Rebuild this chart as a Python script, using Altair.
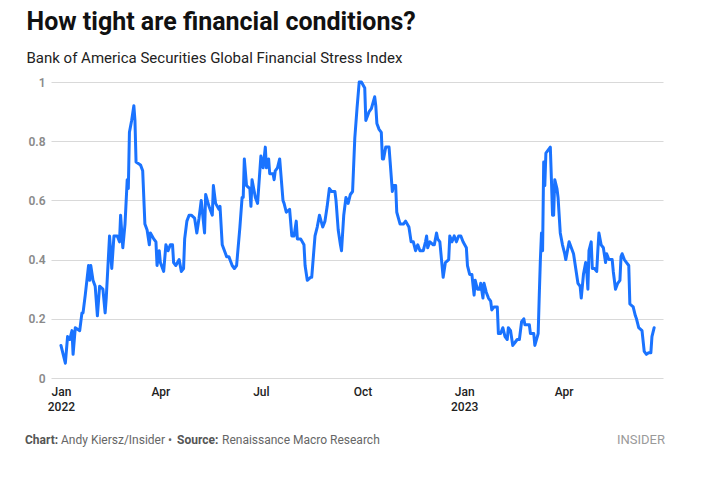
import altair as alt
import pandas as pd

# ---- data (days since 2022-01-01, index value) ----
days_h1_2022 = [0, 4, 6, 8, 10, 11, 13, 17, 19, 20, 22, 25, 26, 27, 29, 31, 33, 35, 38, 40,
                41, 44, 46, 48, 51, 53, 54, 56, 58, 60, 61, 62, 64, 66, 67, 68, 72, 74, 76, 78,
                80, 81, 84, 86, 87, 89, 90, 93, 95, 97, 99, 101, 102, 104, 107, 109, 111, 112, 114, 116]
vals_h1_2022 = [0.11, 0.05, 0.14, 0.13, 0.16, 0.08, 0.17, 0.16, 0.22, 0.22, 0.28, 0.38, 0.33, 0.38, 0.33,
                0.31, 0.21, 0.31, 0.30, 0.22, 0.27, 0.48, 0.37, 0.48, 0.48, 0.46, 0.55, 0.44, 0.52, 0.67,
                0.64, 0.83, 0.87, 0.92, 0.87, 0.73, 0.72, 0.70, 0.52, 0.50, 0.45, 0.49, 0.47, 0.46, 0.38,
                0.43, 0.39, 0.36, 0.45, 0.43, 0.45, 0.45, 0.39, 0.38, 0.40, 0.36, 0.37, 0.47, 0.53, 0.55]

days_mid_2022 = [118, 121, 123, 125, 127, 130, 131, 134, 137, 138, 140, 143, 144, 146, 150, 152, 155, 157,
                 159, 162, 164, 165, 166, 168, 171, 172, 173, 176, 178, 181, 183, 185, 186, 188, 189, 192,
                 193, 194, 196, 198, 201, 202, 204, 207, 209, 211, 213, 214, 217, 220, 221, 223, 226, 227,
                 230, 232, 234, 237, 239, 241, 243, 245, 248, 249, 251, 253, 254, 256, 258, 260, 262]
vals_mid_2022 = [0.55, 0.54, 0.49, 0.54, 0.60, 0.49, 0.62, 0.58, 0.55, 0.65, 0.59, 0.57, 0.58, 0.45, 0.41,
                 0.41, 0.38, 0.37, 0.38, 0.51, 0.61, 0.61, 0.74, 0.65, 0.64, 0.58, 0.67, 0.61, 0.59, 0.75,
                 0.71, 0.78, 0.71, 0.74, 0.69, 0.69, 0.67, 0.70, 0.71, 0.74, 0.60, 0.59, 0.56, 0.57, 0.48,
                 0.48, 0.53, 0.47, 0.47, 0.45, 0.38, 0.33, 0.34, 0.34, 0.48, 0.51, 0.55, 0.51, 0.53, 0.58,
                 0.64, 0.63, 0.63, 0.60, 0.50, 0.45, 0.43, 0.55, 0.61, 0.59, 0.62]

days_late_2022 = [264, 266, 268, 270, 272, 275, 276, 278, 279, 281, 284, 285, 286, 288, 290, 291, 292, 294,
                  297, 298, 300, 301, 303, 304, 307, 310, 312, 315, 317, 319, 321, 323, 325, 328, 330, 331,
                  332, 334, 337, 338, 340, 341, 343, 345, 346, 348, 351, 352, 354, 356, 358, 360, 362, 364,
                  367, 368, 370, 372, 374, 375, 377, 379, 380, 382, 383, 385, 387, 389]
vals_late_2022 = [0.63, 0.81, 0.91, 1.0, 1.0, 0.98, 0.87, 0.89, 0.90, 0.91, 0.95, 0.92, 0.86, 0.84, 0.83,
                  0.74, 0.74, 0.78, 0.78, 0.73, 0.63, 0.65, 0.65, 0.56, 0.52, 0.52, 0.53, 0.51, 0.46, 0.46,
                  0.43, 0.45, 0.43, 0.43, 0.46, 0.48, 0.44, 0.46, 0.45, 0.45, 0.49, 0.47, 0.46, 0.38, 0.34,
                  0.39, 0.40, 0.48, 0.46, 0.48, 0.46, 0.48, 0.48, 0.46, 0.44, 0.38, 0.35, 0.35, 0.28, 0.33,
                  0.30, 0.30, 0.32, 0.27, 0.32, 0.29, 0.27, 0.26]

days_2023 = [390, 392, 395, 396, 398, 400, 402, 404, 405, 407, 409, 411, 413, 415, 417, 419, 420, 422,
             424, 425, 428, 429, 432, 433, 434, 435, 436, 437, 438, 439, 441, 443, 444, 445, 446, 447,
             449, 450, 452, 454, 456, 457, 460, 462, 464, 466, 468, 470, 471, 473, 475, 476, 477, 478,
             480, 481, 483, 485, 486, 487, 489, 491, 493, 494, 496, 499, 500, 502, 504, 506, 507, 508,
             510, 512, 514, 515, 518, 520, 521, 523, 526, 528, 530, 532, 534, 535, 537]
vals_2023 = [0.23, 0.24, 0.24, 0.15, 0.15, 0.17, 0.14, 0.13, 0.17, 0.16, 0.11, 0.12, 0.13, 0.13, 0.19,
             0.20, 0.18, 0.18, 0.18, 0.15, 0.15, 0.11, 0.15, 0.28, 0.40, 0.49, 0.43, 0.73, 0.65, 0.76,
             0.77, 0.78, 0.67, 0.55, 0.55, 0.67, 0.64, 0.61, 0.49, 0.45, 0.42, 0.40, 0.46, 0.44, 0.42,
             0.37, 0.32, 0.31, 0.27, 0.35, 0.39, 0.36, 0.30, 0.43, 0.46, 0.37, 0.37, 0.36, 0.43, 0.49,
             0.45, 0.44, 0.39, 0.42, 0.40, 0.40, 0.36, 0.30, 0.32, 0.33, 0.41, 0.42, 0.40, 0.39, 0.38,
             0.25, 0.24, 0.21, 0.20, 0.17, 0.16, 0.09, 0.08, 0.085, 0.085, 0.14, 0.17]

y_ticks = [0, 0.2, 0.4, 0.6, 0.8, 1]
x_ticks = ["2022-01-01", "2022-04-01", "2022-07-01", "2022-10-01", "2023-01-01", "2023-04-01"]
x_domain = ["2021-12-23", "2023-06-30"]

title_text = "How tight are financial conditions?"
subtitle_text = "Bank of America Securities Global Financial Stress Index"
footer_parts = ["Chart:", "Andy Kiersz/Insider \u2022", "Source:", "Renaissance Macro Research"]
brand_text = "INSIDER"

# ---- build table ----
days = days_h1_2022 + days_mid_2022 + days_late_2022 + days_2023
vals = vals_h1_2022 + vals_mid_2022 + vals_late_2022 + vals_2023
dates = (pd.Timestamp("2022-01-01") + pd.to_timedelta(days, unit="D")).strftime("%Y-%m-%d")
df = pd.DataFrame({"date": list(dates), "value": vals})


def dt(s):
    t = pd.Timestamp(s)
    return alt.DateTime(year=t.year, month=t.month, date=t.day, utc=True)


FONT = "Roboto"
W, H = 612, 296

line = alt.Chart(df).mark_line(
    color="#1a73ff", strokeWidth=3, strokeJoin="round", strokeCap="round"
).encode(
    x=alt.X(
        "date:T",
        scale=alt.Scale(type="utc", domain=[dt(d) for d in x_domain]),
        axis=alt.Axis(
            title=None,
            values=[dt(d) for d in x_ticks],
            labelExpr="utcFormat(datum.value, '%m') == '01' ? [utcFormat(datum.value, '%b'), utcFormat(datum.value, '%Y')] : utcFormat(datum.value, '%b')",
            ticks=False, domain=False, grid=False,
            labelFont=FONT, labelFontSize=12, labelFontWeight=500, labelColor="#222222",
            labelPadding=8, labelLineHeight=15, labelAlign="center",
        ),
    ),
    y=alt.Y(
        "value:Q",
        scale=alt.Scale(domain=[0, 1], nice=False),
        axis=alt.Axis(
            title=None, values=y_ticks, format="~g", ticks=False, domain=False, grid=True,
            gridColor="#d9d9d9", gridWidth=1,
            labelFont=FONT, labelFontSize=12, labelFontWeight=600, labelColor="#8a8a8a",
            labelPadding=6,
        ),
    ),
)


def text_layer(txt, x, y, size, weight="normal", color="#222222", align="left"):
    return alt.Chart(pd.DataFrame({"t": [txt]})).mark_text(
        font=FONT, fontSize=size, fontWeight=weight, color=color, align=align, baseline="alphabetic"
    ).encode(text="t:N", x=alt.value(x), y=alt.value(y))


layers = [
    line,
    text_layer(title_text, -24.5, -52.5, 25, "bold", "#111111"),
    text_layer(subtitle_text, -24.5, -19.5, 15, "normal", "#222222"),
    text_layer(footer_parts[0], -26, 362, 12, "bold", "#555555"),
    text_layer(footer_parts[1], 10, 362, 12, "normal", "#666666"),
    text_layer(footer_parts[2], 126, 362, 12, "bold", "#555555"),
    text_layer(footer_parts[3], 171, 362, 12, "normal", "#666666"),
    text_layer(brand_text, 614, 362, 13, "normal", "#9a9a9a", "right"),
]

chart = alt.layer(*layers).properties(
    width=W, height=H,
    autosize=alt.AutoSizeParams(type="none"),
    padding={"left": 43, "top": 74, "right": 35, "bottom": 84},
    background="white",
).configure_view(stroke=None)

chart.save("out.html", embed_options={"renderer": "svg", "actions": False})
